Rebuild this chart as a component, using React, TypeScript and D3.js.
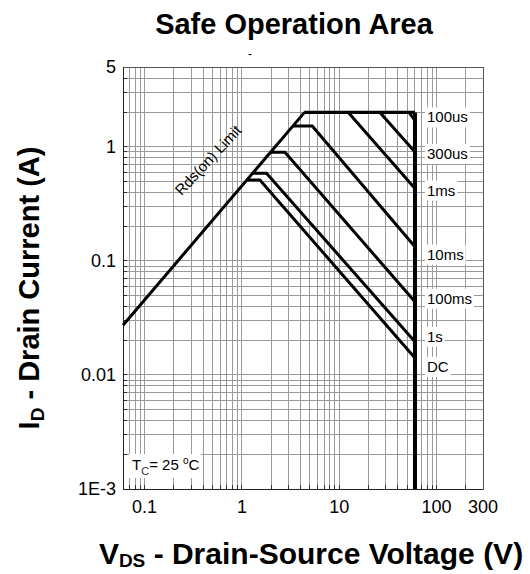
import React from "react";
import * as d3 from "d3";

// ---- data ----
const xDomain = [0.06, 300]; // V
const yDomain = [0.001, 5]; // A
const xTickValues = [0.1, 1, 10, 100, 300];
const xTickLabels = ["0.1", "1", "10", "100", "300"];
const yTickValues = [5, 1, 0.1, 0.01, 0.001];
const yTickLabels = ["5", "1", "0.1", "0.01", "1E-3"];

const rdsOn = 2.2; // ohm, slope of Rds(on) limit
const currentLimit = 2; // A plateau
const voltageLimit = 60; // V vertical limit

const pulseLabels = ["100us", "300us", "1ms", "10ms", "100ms", "1s", "DC"];
const kneeCurrent = [2, 2, 2, 1.52, 0.893, 0.585, 0.51];
const kneeVoltage = [52, 26.2, 12.4, 5.28, 2.77, 1.79, 1.53];
const endCurrent = [1.7, 0.9, 0.43, 0.133, 0.0438, 0.0195, 0.0141];
const labelOffset = [-3, 2, 2, 8, -3, -5, 9]; // px, layout only

const W = 530;
const H = 574;
const M = { left: 123, right: 483, top: 67, bottom: 489 };
const FONT = "'Liberation Sans', Arial, Helvetica, sans-serif";

function gridValues(lo: number, hi: number) {
  const out: number[] = [];
  for (let e = -4; e <= 3; e++) {
    for (let k = 1; k <= 9; k++) {
      const v = +(k * Math.pow(10, e)).toPrecision(6);
      if (v >= lo * 0.9999 && v <= hi * 1.0001) out.push(v);
    }
  }
  return out;
}

let ctx: CanvasRenderingContext2D | null = null;
function textWidth(t: string, font: string) {
  if (!ctx) {
    const c = document.createElement("canvas");
    ctx = c.getContext("2d");
  }
  if (!ctx) return t.length * 8;
  ctx.font = font;
  return ctx.measureText(t).width;
}

export default function App() {
  const x = d3.scaleLog().domain(xDomain).range([M.left, M.right]);
  const y = d3.scaleLog().domain(yDomain).range([M.bottom, M.top]);
  const line = d3
    .line<[number, number]>()
    .x((d) => x(d[0]))
    .y((d) => y(d[1]))
    .curve(d3.curveLinear);

  const xg = gridValues(xDomain[0], xDomain[1]);
  const yg = gridValues(yDomain[0], yDomain[1]);

  const rdsLine: [number, number][] = [
    [xDomain[0], xDomain[0] / rdsOn],
    [currentLimit * rdsOn, currentLimit],
  ];
  const plateau: [number, number][] = [
    [currentLimit * rdsOn, currentLimit],
    [voltageLimit, currentLimit],
  ];
  const vLimit: [number, number][] = [
    [voltageLimit, currentLimit],
    [voltageLimit, yDomain[0]],
  ];
  const curves = pulseLabels.map((_, i) => {
    const pts: [number, number][] = [
      [kneeCurrent[i] * rdsOn, kneeCurrent[i]],
      [kneeVoltage[i], kneeCurrent[i]],
      [voltageLimit, endCurrent[i]],
    ];
    return pts;
  });

  const labelFont = `15px ${FONT}`;

  return (
    <svg
      width={W}
      height={H}
      style={{ position: "absolute", left: 0, top: 0, background: "#fff" }}
      fontFamily={FONT}
    >
      <rect x={0} y={0} width={W} height={H} fill="#fff" />
      {/* title */}
      <text
        x={294}
        y={34}
        textAnchor="middle"
        fontSize={29}
        fontWeight="bold"
        fill="#000"
      >
        Safe Operation Area
      </text>
      <text x={250} y={58} fontSize={12} textAnchor="middle" fill="#000">
        -
      </text>

      {/* grid */}
      <g stroke="#9a9a9a" strokeWidth={1} shapeRendering="crispEdges">
        {xg.map((v, i) => (
          <line key={"xg" + i} x1={x(v)} x2={x(v)} y1={M.top} y2={M.bottom} />
        ))}
        {yg.map((v, i) => (
          <line key={"yg" + i} x1={M.left} x2={M.right} y1={y(v)} y2={y(v)} />
        ))}
      </g>
      {/* inner ticks */}
      <g stroke="#333" strokeWidth={1} shapeRendering="crispEdges">
        {xg.map((v, i) => (
          <line key={"xt" + i} x1={x(v)} x2={x(v)} y1={M.bottom} y2={M.bottom - 4} />
        ))}
        {yg.map((v, i) => (
          <line key={"yt" + i} x1={M.left} x2={M.left + 4} y1={y(v)} y2={y(v)} />
        ))}
      </g>
      {/* frame */}
      <rect
        x={M.left}
        y={M.top}
        width={M.right - M.left}
        height={M.bottom - M.top}
        fill="none"
        stroke="#555"
        strokeWidth={1}
        shapeRendering="crispEdges"
      />
      <line x1={M.left} x2={M.left} y1={M.top} y2={M.bottom} stroke="#222" shapeRendering="crispEdges" />
      <line x1={M.left} x2={M.right} y1={M.bottom} y2={M.bottom} stroke="#222" shapeRendering="crispEdges" />

      {/* curve labels with white boxes */}
      {pulseLabels.map((lab, i) => {
        const w = textWidth(lab, labelFont);
        const lx = x(voltageLimit) + 12;
        const ly = y(endCurrent[i]) + labelOffset[i];
        return (
          <g key={"lab" + i}>
            <rect x={lx - 2} y={ly - 10} width={w + 4} height={20} fill="#fff" />
            <text x={lx} y={ly + 5} fontSize={15} fill="#000">
              {lab}
            </text>
          </g>
        );
      })}

      {/* SOA lines */}
      <g fill="none" stroke="#000" strokeLinejoin="miter">
        <path d={line(rdsLine) || ""} strokeWidth={3} />
        {curves.map((c, i) => (
          <path key={"c" + i} d={line(c) || ""} strokeWidth={3} />
        ))}
        <path d={line(plateau) || ""} strokeWidth={3.2} />
        <path d={line(vLimit) || ""} strokeWidth={4} />
      </g>

      {/* Rds(on) limit label */}
      <text
        transform="translate(209,161) rotate(-47)"
        textAnchor="middle"
        dominantBaseline="middle"
        fontSize={15}
        fill="#000"
      >
        Rds(on) Limit
      </text>

      {/* Tc label */}
      <rect x={129} y={454} width={72} height={24} fill="#fff" />
      <text x={132} y={470} fontSize={15} fill="#000">
        T
        <tspan fontSize={11} dy={5} fill="#334">
          C
        </tspan>
        <tspan dy={-5}>= 25 </tspan>
        <tspan fontSize={10} dy={-6}>
          o
        </tspan>
        <tspan dy={6}>C</tspan>
      </text>

      {/* tick labels */}
      {xTickValues.map((v, i) => (
        <text
          key={"xl" + i}
          x={x(v)}
          y={513}
          textAnchor="middle"
          fontSize={18}
          fill="#000"
        >
          {xTickLabels[i]}
        </text>
      ))}
      {yTickValues.map((v, i) => (
        <text
          key={"yl" + i}
          x={116}
          y={y(v) + 6}
          textAnchor="end"
          fontSize={18}
          fill="#000"
        >
          {yTickLabels[i]}
        </text>
      ))}

      {/* axis titles */}
      <text
        transform="translate(39,288) rotate(-90)"
        textAnchor="middle"
        fontSize={29}
        fontWeight="bold"
        fill="#000"
      >
        I
        <tspan fontSize={19} dy={5}>
          D
        </tspan>
        <tspan dy={-5}> - Drain Current (A)</tspan>
      </text>
      <text x={311} y={564} textAnchor="middle" fontSize={30} fontWeight="bold" fill="#000">
        V
        <tspan fontSize={19} dy={3}>
          DS
        </tspan>
        <tspan dy={-3}> - Drain-Source Voltage (V)</tspan>
      </text>
    </svg>
  );
}
